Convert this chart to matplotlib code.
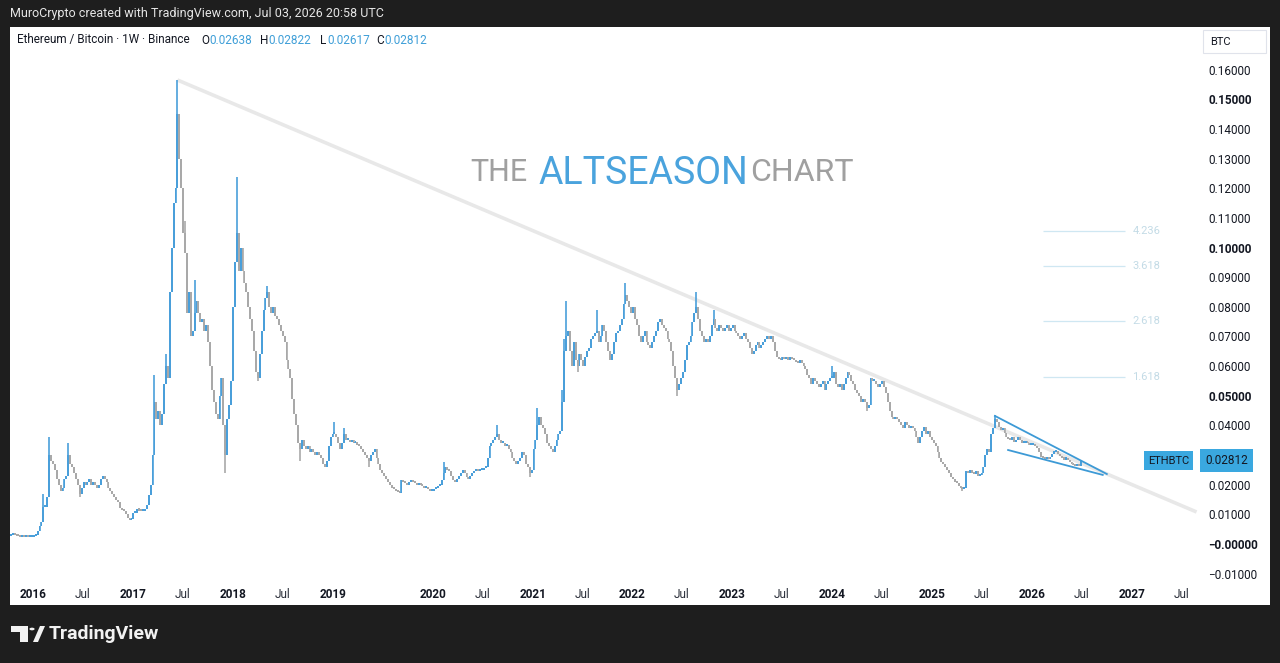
import numpy as np
import pandas as pd
import matplotlib
matplotlib.use('Agg')
import matplotlib.pyplot as plt
import matplotlib.dates as mdates
import matplotlib.transforms as mtransforms
from matplotlib.patches import Rectangle, Polygon, Circle

# ---- weekly ETH/BTC closes (one list per calendar year) ----
close_2015 = [0.0026, 0.0030, 0.0034, 0.0029, 0.0027, 0.0026, 0.0025, 0.0026, 0.0024,
              0.0024, 0.0023, 0.0024, 0.0024]
close_2016 = [0.0028, 0.0032, 0.0045, 0.0062, 0.0075, 0.0125, 0.0125, 0.0160, 0.0300, 0.0280,
              0.0270, 0.0250, 0.0220, 0.0200, 0.0180, 0.0190, 0.0220, 0.0230, 0.0300, 0.0270,
              0.0260, 0.0240, 0.0220, 0.0200, 0.0170, 0.0190, 0.0210, 0.0200, 0.0210, 0.0220,
              0.0200, 0.0210, 0.0200, 0.0190, 0.0200, 0.0220, 0.0230, 0.0220, 0.0210, 0.0190,
              0.0180, 0.0170, 0.0160, 0.0150, 0.0140, 0.0120, 0.0115, 0.0110, 0.0100, 0.0088,
              0.0080, 0.0085]
close_2017 = [0.0103, 0.0105, 0.0118, 0.0113, 0.0110, 0.0112, 0.0118, 0.0130, 0.0165, 0.0200,
              0.0300, 0.0480, 0.0420, 0.0450, 0.0400, 0.0440, 0.0540, 0.0600, 0.0560, 0.0850,
              0.1000, 0.1150, 0.1200, 0.1450, 0.1300, 0.1200, 0.1050, 0.0980, 0.0780, 0.0850,
              0.0700, 0.0720, 0.0780, 0.0820, 0.0780, 0.0750, 0.0760, 0.0720, 0.0740, 0.0680,
              0.0600, 0.0520, 0.0480, 0.0440, 0.0420, 0.0500, 0.0560, 0.0400, 0.0300, 0.0420,
              0.0470, 0.0550]
close_2018 = [0.0800, 0.0950, 0.1050, 0.0920, 0.1000, 0.0920, 0.0880, 0.0850, 0.0800, 0.0760,
              0.0720, 0.0650, 0.0580, 0.0560, 0.0640, 0.0720, 0.0790, 0.0830, 0.0850, 0.0800,
              0.0780, 0.0800, 0.0770, 0.0760, 0.0740, 0.0720, 0.0700, 0.0680, 0.0620, 0.0590,
              0.0560, 0.0490, 0.0440, 0.0400, 0.0340, 0.0320, 0.0350, 0.0330, 0.0320, 0.0330,
              0.0310, 0.0320, 0.0310, 0.0300, 0.0310, 0.0300, 0.0290, 0.0270, 0.0260, 0.0280,
              0.0330, 0.0360, 0.0370]
close_2019 = [0.0370, 0.0360, 0.0340, 0.0320, 0.0340, 0.0370, 0.0350, 0.0350, 0.0345, 0.0350,
              0.0340, 0.0345, 0.0335, 0.0330, 0.0320, 0.0310, 0.0300, 0.0290, 0.0280, 0.0300,
              0.0310, 0.0320, 0.0290, 0.0270, 0.0250, 0.0240, 0.0230, 0.0220, 0.0210, 0.0200,
              0.0190, 0.0185, 0.0180, 0.0175, 0.0172, 0.0215, 0.0210, 0.0205, 0.0200, 0.0210,
              0.0215, 0.0210, 0.0205, 0.0200, 0.0205, 0.0200, 0.0195, 0.0190, 0.0190, 0.0185,
              0.0180, 0.0180]
close_2020 = [0.0185, 0.0190, 0.0195, 0.0200, 0.0215, 0.0240, 0.0260, 0.0250, 0.0245, 0.0230,
              0.0215, 0.0210, 0.0220, 0.0230, 0.0240, 0.0250, 0.0240, 0.0225, 0.0220, 0.0230,
              0.0240, 0.0245, 0.0250, 0.0245, 0.0250, 0.0250, 0.0255, 0.0260, 0.0290, 0.0330,
              0.0340, 0.0350, 0.0360, 0.0370, 0.0350, 0.0340, 0.0340, 0.0330, 0.0335, 0.0320,
              0.0310, 0.0290, 0.0280, 0.0270, 0.0280, 0.0290, 0.0310, 0.0300, 0.0270, 0.0260,
              0.0240, 0.0250]
close_2021 = [0.0320, 0.0350, 0.0400, 0.0430, 0.0400, 0.0390, 0.0370, 0.0340, 0.0330, 0.0320,
              0.0310, 0.0330, 0.0350, 0.0370, 0.0380, 0.0480, 0.0650, 0.0700, 0.0720, 0.0650,
              0.0600, 0.0680, 0.0620, 0.0600, 0.0640, 0.0620, 0.0600, 0.0630, 0.0650, 0.0660,
              0.0690, 0.0700, 0.0710, 0.0720, 0.0680, 0.0700, 0.0740, 0.0720, 0.0680, 0.0650,
              0.0620, 0.0640, 0.0680, 0.0710, 0.0720, 0.0740, 0.0760, 0.0810, 0.0840, 0.0820,
              0.0800, 0.0780]
close_2022 = [0.0800, 0.0760, 0.0740, 0.0700, 0.0680, 0.0700, 0.0720, 0.0680, 0.0670, 0.0660,
              0.0680, 0.0700, 0.0720, 0.0750, 0.0760, 0.0740, 0.0730, 0.0720, 0.0690, 0.0680,
              0.0650, 0.0600, 0.0560, 0.0520, 0.0540, 0.0560, 0.0580, 0.0620, 0.0670, 0.0680,
              0.0700, 0.0750, 0.0780, 0.0800, 0.0760, 0.0720, 0.0700, 0.0680, 0.0690, 0.0680,
              0.0700, 0.0740, 0.0760, 0.0730, 0.0720, 0.0740, 0.0730, 0.0720, 0.0730, 0.0740,
              0.0720, 0.0730]
close_2023 = [0.0740, 0.0720, 0.0710, 0.0700, 0.0690, 0.0700, 0.0710, 0.0690, 0.0680, 0.0660,
              0.0640, 0.0650, 0.0670, 0.0680, 0.0660, 0.0670, 0.0680, 0.0690, 0.0700, 0.0690,
              0.0700, 0.0680, 0.0650, 0.0630, 0.0625, 0.0620, 0.0630, 0.0625, 0.0630, 0.0620,
              0.0630, 0.0625, 0.0620, 0.0615, 0.0610, 0.0620, 0.0610, 0.0600, 0.0590, 0.0570,
              0.0560, 0.0540, 0.0560, 0.0550, 0.0540, 0.0530, 0.0540, 0.0550, 0.0520, 0.0540,
              0.0550, 0.0560]
close_2024 = [0.0560, 0.0580, 0.0540, 0.0530, 0.0540, 0.0520, 0.0540, 0.0560, 0.0580, 0.0570,
              0.0550, 0.0540, 0.0520, 0.0510, 0.0500, 0.0480, 0.0490, 0.0480, 0.0460, 0.0470,
              0.0560, 0.0550, 0.0550, 0.0540, 0.0530, 0.0540, 0.0550, 0.0530, 0.0510, 0.0480,
              0.0450, 0.0430, 0.0420, 0.0430, 0.0420, 0.0410, 0.0400, 0.0390, 0.0410, 0.0400,
              0.0390, 0.0395, 0.0390, 0.0380, 0.0360, 0.0340, 0.0360, 0.0380, 0.0395, 0.0370,
              0.0380, 0.0360, 0.0350]
close_2025 = [0.0340, 0.0330, 0.0310, 0.0290, 0.0275, 0.0270, 0.0260, 0.0250, 0.0240, 0.0225,
              0.0220, 0.0210, 0.0205, 0.0195, 0.0190, 0.0185, 0.0190, 0.0245, 0.0240, 0.0250,
              0.0240, 0.0235, 0.0245, 0.0230, 0.0232, 0.0240, 0.0260, 0.0300, 0.0320, 0.0310,
              0.0370, 0.0390, 0.0420, 0.0410, 0.0395, 0.0385, 0.0390, 0.0375, 0.0360, 0.0355,
              0.0350, 0.0360, 0.0345, 0.0350, 0.0360, 0.0350, 0.0340, 0.0340, 0.0345, 0.0340,
              0.0335, 0.0335]
close_2026 = [0.0335, 0.0330, 0.0325, 0.0310, 0.0295, 0.0290, 0.0288, 0.0292, 0.0288, 0.0295,
              0.0305, 0.0310, 0.0312, 0.0305, 0.0298, 0.0290, 0.0285, 0.0288, 0.0282, 0.0275,
              0.0270, 0.0265, 0.0262, 0.0268, 0.02638, 0.02812]

# wicks that stick out of the bodies
wick_high = {
    '2016-02-08': 0.0170, '2016-02-29': 0.0360, '2016-05-09': 0.0340,
    '2017-03-20': 0.0570, '2017-05-01': 0.0640, '2017-06-12': 0.1565, '2017-07-10': 0.1090,
    '2017-08-14': 0.0890, '2018-01-15': 0.1238, '2018-05-07': 0.0870,
    '2019-01-07': 0.0410, '2019-02-11': 0.0390, '2020-02-10': 0.0277, '2020-08-24': 0.0400,
    '2021-01-18': 0.0460, '2021-04-19': 0.0520, '2021-04-26': 0.0690, '2021-05-03': 0.0820,
    '2021-08-23': 0.0790, '2021-12-06': 0.0880, '2022-08-22': 0.0850, '2022-10-24': 0.0790,
    '2024-01-01': 0.0600, '2025-08-18': 0.0435, '2026-06-29': 0.02822,
}
wick_low = {
    '2016-06-20': 0.0160, '2017-12-04': 0.0240, '2018-04-02': 0.0550, '2018-09-03': 0.0280,
    '2019-05-13': 0.0260, '2020-12-21': 0.0226, '2021-06-14': 0.0580, '2022-06-13': 0.0500,
    '2024-05-06': 0.0450, '2025-04-21': 0.0180, '2026-06-29': 0.02617,
}

# drawings on the chart
trend_dates = ['2017-06-12', '2027-08-25']
trend_prices = [0.1565, 0.0108]
wedge_top_dates = ['2025-08-18', '2026-10-01']
wedge_top_prices = [0.0432, 0.0236]
wedge_low_dates = ['2025-10-05', '2026-09-16']
wedge_low_prices = [0.0317, 0.0233]
fib_levels = ['1.618', '2.618', '3.618', '4.236']
fib_prices = [0.0563, 0.0752, 0.0938, 0.1056]
fib_span = ['2026-02-10', '2026-12-05']

price_ticks = [0.16, 0.15, 0.14, 0.13, 0.12, 0.11, 0.10, 0.09, 0.08, 0.07, 0.06,
               0.05, 0.04, 0.03, 0.02, 0.01, 0.0, -0.01]
bold_ticks = [0.15, 0.10, 0.05, 0.0]
year_ticks = [2016, 2017, 2018, 2019, 2020, 2021, 2022, 2023, 2024, 2025, 2026, 2027]
jul_ticks = [2016, 2017, 2018, 2020, 2021, 2022, 2023, 2024, 2025, 2026, 2027]

last_close = 0.02812

BLUE = '#4a9fda'
GREY = '#a9a9a9'
INK = '#131722'
W, H = 1280, 663


def px(x, y):
    return x / W, 1 - y / H


plt.rcParams['font.family'] = ['Roboto', 'DejaVu Sans']

fig = plt.figure(figsize=(W / 100, H / 100), dpi=100, facecolor='#1e1e1e')
fig.add_artist(Rectangle(px(10, 605), 1260 / W, 578 / H, transform=fig.transFigure,
                         fc='white', ec='none', zorder=-10))

ax = fig.add_axes([10 / W, 1 - 580 / H, 1190 / W, 553 / H])
ax.set_facecolor('white')
for s in ax.spines.values():
    s.set_visible(False)

# candles
years = [(2015, close_2015), (2016, close_2016), (2017, close_2017), (2018, close_2018),
         (2019, close_2019), (2020, close_2020), (2021, close_2021), (2022, close_2022),
         (2023, close_2023), (2024, close_2024), (2025, close_2025), (2026, close_2026)]
parts = []
for y, vals in years:
    start = '2015-10-05' if y == 2015 else f'{y}-01-01'
    parts.append(pd.date_range(start, periods=len(vals), freq='W-MON'))
dates = parts[0].append(parts[1:])
close = np.concatenate([v for _, v in years])
opn = np.r_[close[0], close[:-1]]
high = np.maximum(opn, close)
low = np.minimum(opn, close)
for d, v in wick_high.items():
    i = dates.get_loc(pd.Timestamp(d))
    high[i] = max(high[i], v)
for d, v in wick_low.items():
    i = dates.get_loc(pd.Timestamp(d))
    low[i] = min(low[i], v)

xd = mdates.date2num(dates)
cols = np.where(close >= opn, BLUE, GREY)
ax.vlines(xd, low, high, colors=cols, lw=1.2, zorder=3)
body_lo = np.minimum(opn, close)
body_h = np.maximum(np.abs(close - opn), 0.0007)
ax.bar(xd, body_h, bottom=body_lo, width=6.8, color=cols, lw=0, zorder=3)

# trend line, wedge, fib extension
ax.plot(pd.to_datetime(trend_dates), trend_prices, color='#e8e8e8', lw=2.6,
        solid_capstyle='butt', zorder=2)
ax.plot(pd.to_datetime(wedge_top_dates), wedge_top_prices, color='#3d9ad6', lw=1.3, zorder=4)
ax.plot(pd.to_datetime(wedge_low_dates), wedge_low_prices, color='#3d9ad6', lw=1.3, zorder=4)
f0, f1 = pd.to_datetime(fib_span)
ax.hlines(fib_prices, f0, f1, colors='#cfe7f2', lw=0.9, zorder=2)
for lvl, p in zip(fib_levels, fib_prices):
    ax.text(f1 + pd.Timedelta(days=28), p, lvl, color='#c3dbe6', fontsize=8,
            ha='left', va='center')

# axes scaling: 2016-01-01 at px 33, 2027-01-01 at px 1132
d16 = mdates.date2num(pd.Timestamp('2016-01-01'))
d27 = mdates.date2num(pd.Timestamp('2027-01-01'))
ppd = (1132 - 33) / (d27 - d16)
ax.set_xlim(d16 - 23 / ppd, d27 + 68 / ppd)
ax.set_ylim(-0.01214, 0.17437)

ax.set_xticks([mdates.date2num(pd.Timestamp(f'{y}-01-01')) for y in year_ticks])
ax.set_xticklabels([str(y) for y in year_ticks], fontweight='bold', color=INK, fontsize=8.5)
ax.set_xticks([mdates.date2num(pd.Timestamp(f'{y}-07-01')) for y in jul_ticks], minor=True)
ax.set_xticklabels(['Jul'] * len(jul_ticks), minor=True, color='#2a2e39', fontsize=8.5)
ax.tick_params(axis='x', which='both', length=0, pad=6)

ax.yaxis.tick_right()
ax.set_yticks(price_ticks)
ax.set_yticklabels([f'{v:.5f}'.replace('-', '\u2212') if v != 0 else '\u22120.00000'
                    for v in price_ticks], color=INK, fontsize=8.5)
for lab, v in zip(ax.get_yticklabels(), price_ticks):
    if any(abs(v - b) < 1e-9 for b in bold_ticks):
        lab.set_fontweight('bold')
ax.tick_params(axis='y', length=0, pad=6)

# last price labels
bt = mtransforms.blended_transform_factory(fig.transFigure, ax.transData)
ax.text(1148 / W, last_close, 'ETHBTC', transform=bt, ha='left', va='center', fontsize=8,
        color=INK, clip_on=False, zorder=10,
        bbox=dict(boxstyle='square,pad=0.38', fc='#3aa8e0', ec='none'))
ax.text(1205 / W, last_close, f'{last_close:.5f}', transform=bt, ha='left', va='center',
        fontsize=8.5, color=INK, clip_on=False, zorder=10,
        bbox=dict(boxstyle='square,pad=0.42', fc='#3aa8e0', ec='none'))

# currency box
fig.add_artist(Rectangle(px(1203, 53), 63 / W, 23 / H, transform=fig.transFigure,
                         fc='white', ec='#e0e3eb', lw=0.8, zorder=5))
fig.text(*px(1210, 42), 'BTC', fontsize=8, color=INK, va='center', ha='left', zorder=6)

# title watermark
fig.text(*px(470, 181), 'THE', fontsize=22, color='#a0a0a0', ha='left', va='baseline')
fig.text(*px(539, 184), 'ALTSEASON', fontsize=27, color='#4aa3dd', ha='left', va='baseline')
fig.text(*px(750, 181), 'CHART', fontsize=23, color='#a0a0a0', ha='left', va='baseline')

# header lines
fig.text(*px(10, 13), 'MuroCrypto created with TradingView.com, Jul 03, 2026 20:58 UTC',
         fontsize=9, color='#e6e6e6', ha='left', va='center')
fig.text(*px(17, 40), 'Ethereum / Bitcoin \u00b7 1W \u00b7 Binance', fontsize=8.5, color=INK,
         ha='left', va='center')
for xl, xv, lab, val in [(201, 209, 'O', '0.02638'), (260, 268, 'H', '0.02822'),
                         (320, 327, 'L', '0.02617'), (376, 384, 'C', '0.02812')]:
    fig.text(*px(xl, 40), lab, fontsize=8.5, color=INK, ha='left', va='center')
    fig.text(*px(xv, 40), val, fontsize=8.5, color='#3f9fd8', ha='left', va='center')

# TradingView logo
logo = [
    Polygon([px(11, 626), px(28, 626), px(28, 642), px(20, 642), px(20, 632), px(11, 632)],
            closed=True),
    Polygon([px(33, 642), px(38, 642), px(45, 626), px(40, 626)], closed=True),
]
for p in logo:
    p.set_transform(fig.transFigure)
    p.set_facecolor('#f2f2f2')
    p.set_edgecolor('none')
    fig.add_artist(p)
fig.add_artist(Circle(px(32, 629), 2.6 / W, transform=fig.transFigure, fc='#f2f2f2', ec='none'))
fig.text(*px(49, 634), 'TradingView', fontsize=14, fontweight='bold', color='#f2f2f2',
         ha='left', va='center')

fig.savefig('out.png', dpi=100, facecolor=fig.get_facecolor())
